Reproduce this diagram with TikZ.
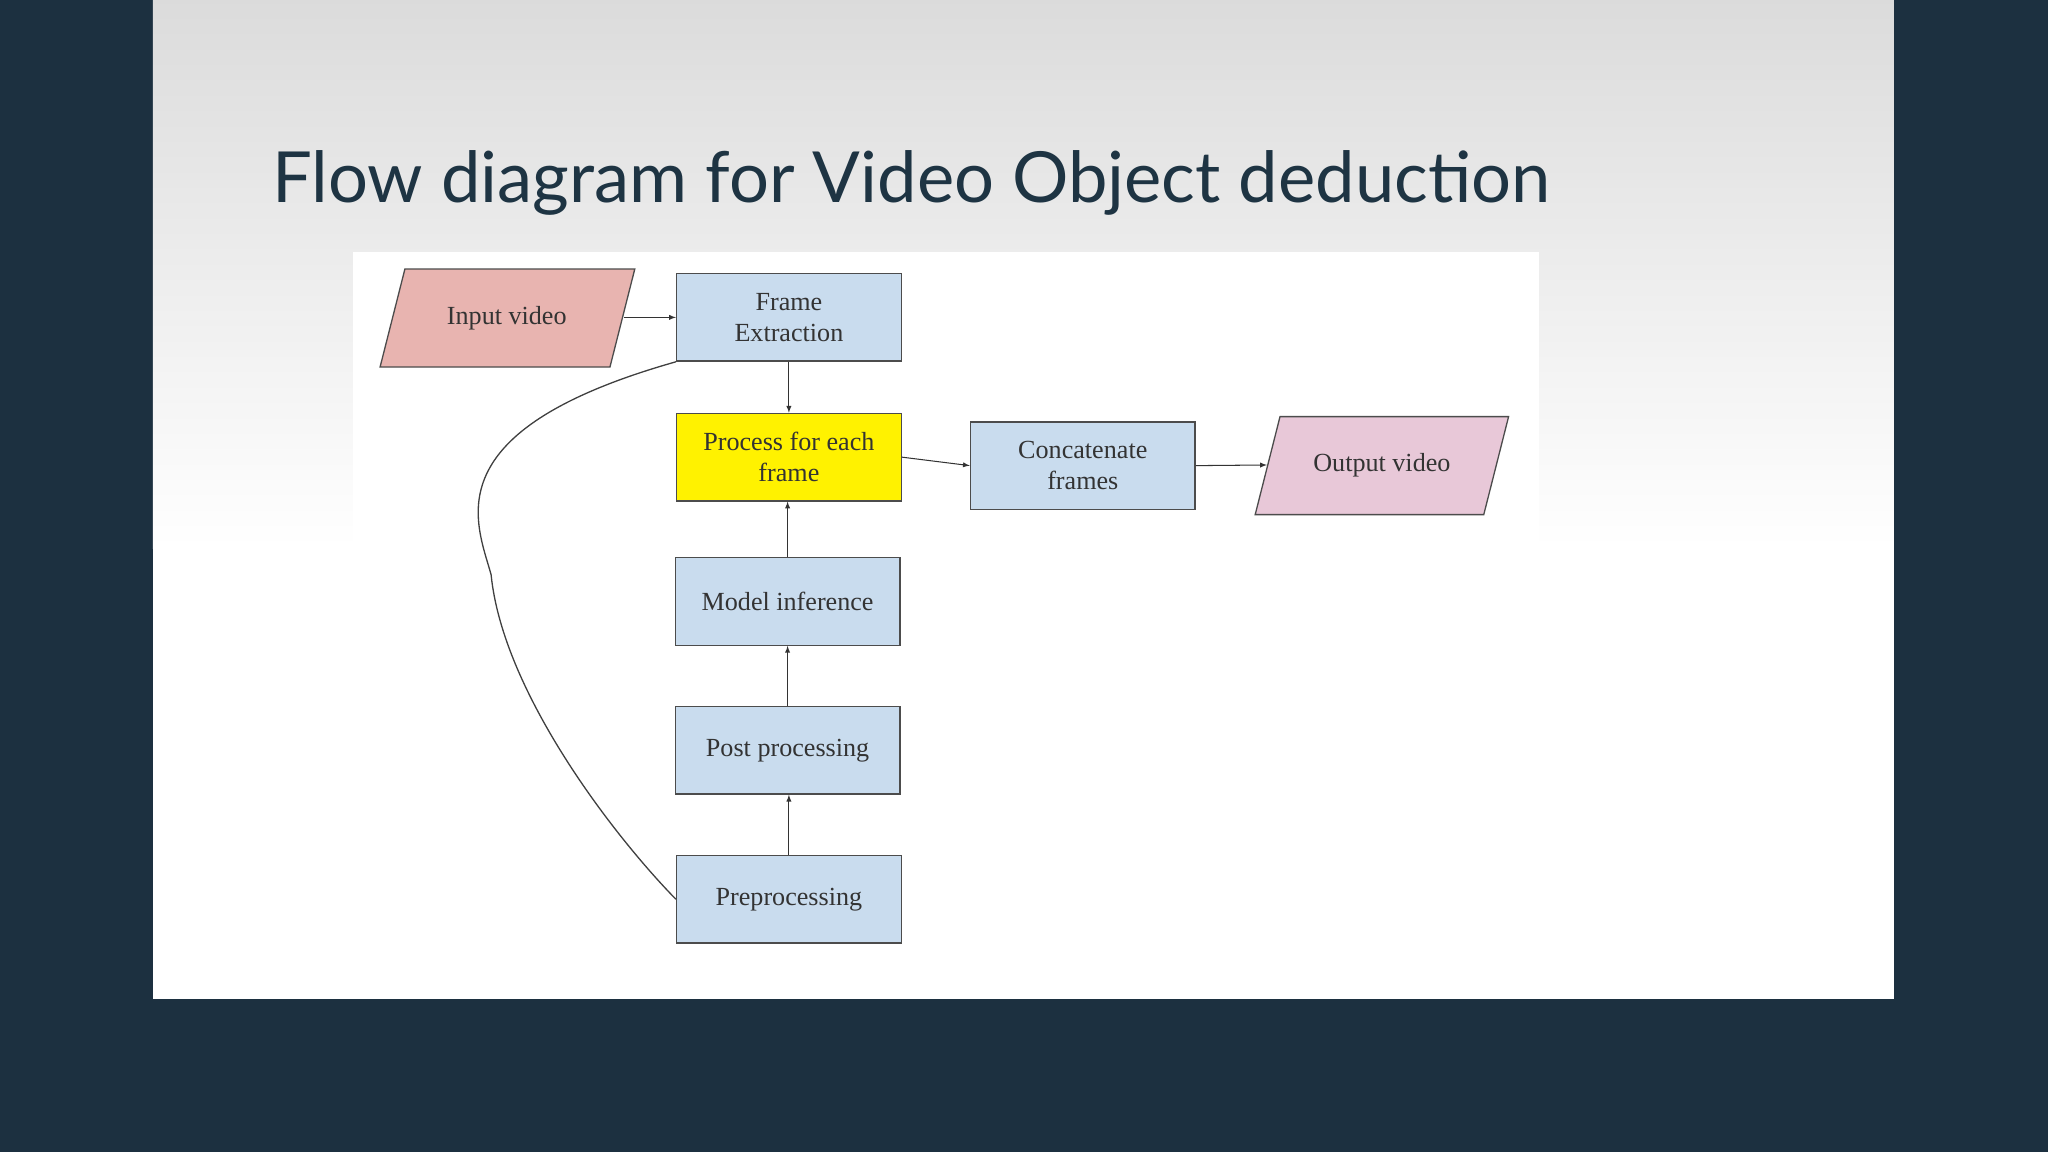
\documentclass[tikz,border=0pt]{standalone}
\usepackage{fontspec}
\setmainfont{Liberation Serif}
\newfontfamily\titlefont{Lato}
\begin{document}
\begin{tikzpicture}[x=1pt,y=-1pt,
  box/.style={draw=black!70,line width=1pt,minimum width=172pt,minimum height=67pt,align=center,font=\fontsize{20}{24}\selectfont,text=black!80,fill=boxblue},
  arr/.style={-latex,line width=0.8pt,black!80}]
\definecolor{bg}{HTML}{1C3040}
\definecolor{boxblue}{HTML}{C9DCEE}
\definecolor{titlec}{HTML}{1E3443}
\definecolor{inpink}{HTML}{E8B4B0}
\definecolor{outpink}{HTML}{E8C8D8}
\useasboundingbox (0,0) rectangle (1568,882);
\fill[bg] (0,0) rectangle (1568,882);
\shade[top color=black!14,bottom color=white] (117,0) rectangle (1450,420);
\fill[white] (117,419) rectangle (1450,765);
\fill[white] (270,193) rectangle (1178,420);
\node[anchor=base west,font=\titlefont\fontsize{54}{60}\selectfont,text=titlec] (title) at (205,155) {Flow diagram for Video Object deduction};
\node[box] (fe) at (604,243) {Frame\\Extraction};
\node[box,fill=yellow] (pf) at (604,350) {Process for each\\frame};
\node[box] (cf) at (829,356.5) {Concatenate\\frames};
\node[box] (mi) at (603,460.5) {Model inference};
\node[box] (pp) at (603,574.5) {Post processing};
\node[box] (pr) at (604,688.5) {Preprocessing};
\draw[black!70,line width=1pt,fill=inpink] (291,281)--(310,206)--(486,206)--(467,281)--cycle;
\node[font=\fontsize{20}{24}\selectfont,text=black!80] (iv) at (388,243.5) {Input video};
\draw[black!70,line width=1pt,fill=outpink] (961,394)--(980,319)--(1155,319)--(1136,394)--cycle;
\node[font=\fontsize{20}{24}\selectfont,text=black!80] (ov) at (1058,356.5) {Output video};
\coordinate (ivr) at (478,243);
\draw[arr] (ivr) -- (fe.west);
\draw[arr] (fe.south) -- (pf.north);
\draw[arr] (mi.north) -- (pf.south -| mi.north);
\draw[arr] (pp.north) -- (mi.south);
\draw[arr] (pr.north) -- (pp.south -| pr.north);
\draw[arr] (pf.east) -- (cf.west);
\coordinate (ovl) at (970,356);
\draw[arr] (cf.east) -- (ovl);
\draw[black!75,line width=1pt] (fe.south west) .. controls (330,330) and (365,400) .. (376,440) .. controls (385,530) and (470,640) .. (pr.west);
\end{tikzpicture}
\end{document}
